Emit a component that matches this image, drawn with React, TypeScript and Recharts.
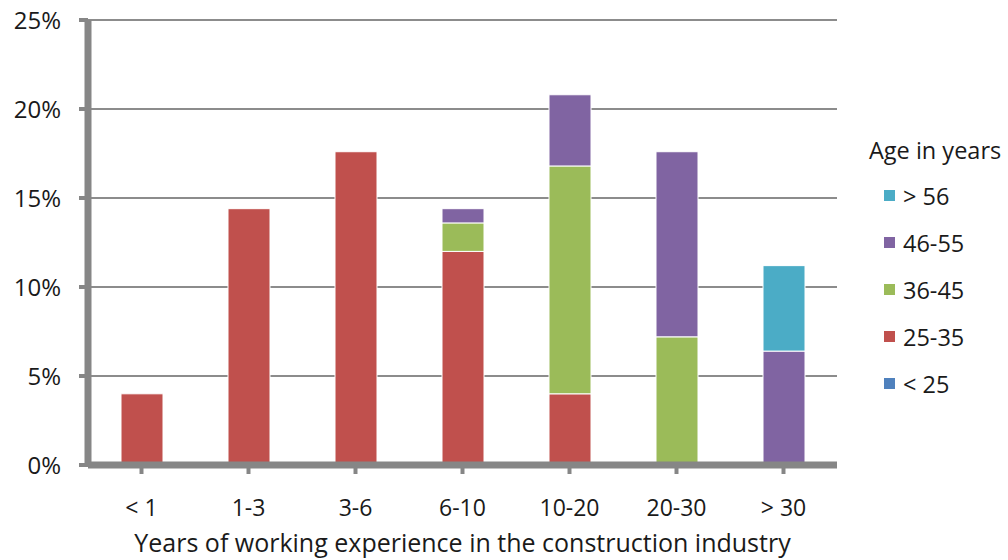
import { BarChart, Bar, XAxis, YAxis, CartesianGrid } from "recharts";

const categories = ["< 1", "1-3", "3-6", "6-10", "10-20", "20-30", "> 30"];
const under25 = [0, 0, 0, 0, 0, 0, 0];
const age25to35 = [4.0, 14.4, 17.6, 12.0, 4.0, 0, 0];
const age36to45 = [0, 0, 0, 1.6, 12.8, 7.2, 0];
const age46to55 = [0, 0, 0, 0.8, 4.0, 10.4, 6.4];
const over56 = [0, 0, 0, 0, 0, 0, 4.8];
const yTicks = [0, 5, 10, 15, 20, 25];

const series = [
  { key: "u25", name: "< 25", color: "#4F81BD" },
  { key: "a25", name: "25-35", color: "#C0504D" },
  { key: "a36", name: "36-45", color: "#9BBB59" },
  { key: "a46", name: "46-55", color: "#8064A2" },
  { key: "o56", name: "> 56", color: "#4BACC6" },
];

const data = categories.map((c, i) => ({
  name: c,
  u25: under25[i],
  a25: age25to35[i],
  a36: age36to45[i],
  a46: age46to55[i],
  o56: over56[i],
}));

const font = "'Open Sans', sans-serif";
const axisGray = "#868686";
const textColor = "#1a1a1a";

function AgeLegend() {
  return (
    <div
      style={{
        position: "absolute",
        left: 862,
        top: 128,
        width: 146,
        fontFamily: font,
        fontSize: 23.5,
        color: textColor,
        background: "#fff",
      }}
    >
      <div style={{ height: 44, lineHeight: "44px", paddingLeft: 7, whiteSpace: "nowrap" }}>Age in years</div>
      {[...series].reverse().map((s) => (
        <div key={s.key} style={{ display: "flex", alignItems: "center", height: 47, paddingLeft: 22 }}>
          <span style={{ width: 11, height: 11, background: s.color, display: "inline-block", marginRight: 8 }} />
          <span>{s.name}</span>
        </div>
      ))}
    </div>
  );
}

export default function App() {
  return (
    <div style={{ position: "absolute", left: 0, top: 0, width: 1008, height: 560, background: "#fff" }}>
      <BarChart
        width={1008}
        height={560}
        data={data}
        margin={{ top: 20, right: 171, bottom: 0, left: 0 }}
        barSize={42}
      >
        <CartesianGrid vertical={false} stroke="#8c8c8c" strokeWidth={2} />
        <XAxis
          dataKey="name"
          height={95}
          axisLine={{ stroke: axisGray, strokeWidth: 7 }}
          tickLine={{ stroke: axisGray, strokeWidth: 4 }}
          tickSize={9}
          tickMargin={26}
          tick={{ fill: textColor, fontSize: 23, fontFamily: font }}
          label={{
            value: "Years of working experience in the construction industry",
            position: "insideBottom",
            offset: 8,
            fill: textColor,
            fontSize: 25,
            fontFamily: font,
          }}
        />
        <YAxis
          width={88}
          domain={[0, 25]}
          ticks={yTicks}
          interval={0}
          tickFormatter={(v) => `${v}%`}
          axisLine={{ stroke: axisGray, strokeWidth: 7 }}
          tickLine={{ stroke: axisGray, strokeWidth: 4 }}
          tickSize={9}
          tickMargin={18}
          tick={{ fill: textColor, fontSize: 24, fontFamily: font }}
        />
        {series.map((s) => (
          <Bar
            key={s.key}
            dataKey={s.key}
            name={s.name}
            stackId="age"
            fill={s.color}
            stroke="#fff"
            strokeWidth={1}
            isAnimationActive={false}
          />
        ))}
      </BarChart>
      <AgeLegend />
    </div>
  );
}
